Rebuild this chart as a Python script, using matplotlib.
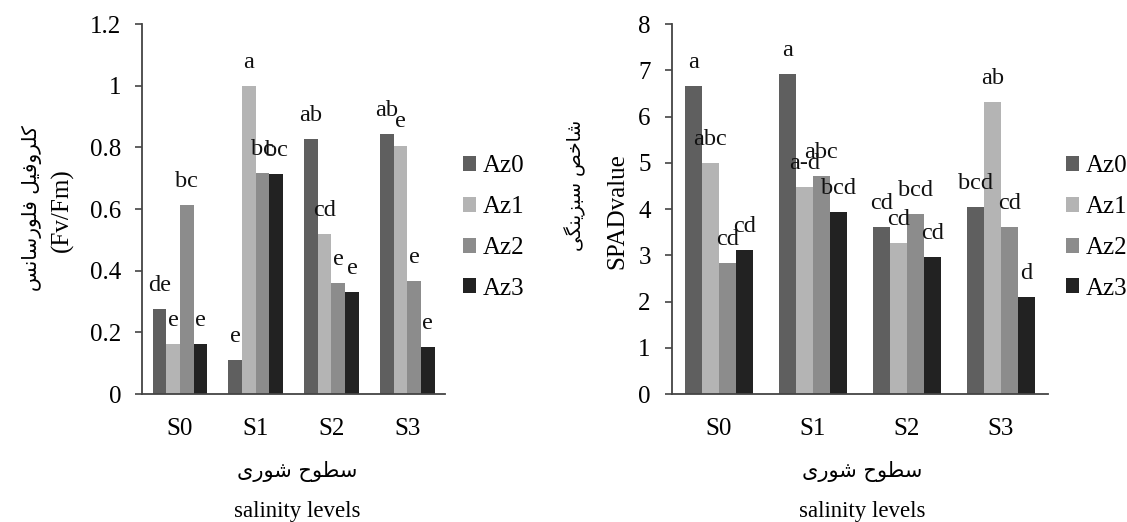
import matplotlib
matplotlib.use('Agg')
import matplotlib.pyplot as plt
import numpy as np

# data
categories = ['S0', 'S1', 'S2', 'S3']
series = ['Az0', 'Az1', 'Az2', 'Az3']

fvfm = [[0.277, 0.110, 0.826, 0.842],   # Az0
        [0.163, 1.000, 0.519, 0.806],   # Az1
        [0.613, 0.718, 0.360, 0.367],   # Az2
        [0.162, 0.715, 0.331, 0.152]]   # Az3
fvfm_letters = [['de', 'e', 'ab', 'ab'],
                ['e', 'a', 'cd', 'e'],
                ['bc', 'bc', 'e', 'e'],
                ['e', 'bc', 'e', 'e']]

spad = [[6.66, 6.91, 3.62, 4.05],
        [5.00, 4.48, 3.27, 6.32],
        [2.84, 4.71, 3.89, 3.62],
        [3.12, 3.94, 2.97, 2.09]]
spad_letters = [['a', 'a', 'cd', 'bcd'],
                ['abc', 'a-d', 'cd', 'ab'],
                ['cd', 'abc', 'bcd', 'cd'],
                ['cd', 'bcd', 'cd', 'd']]

colors = ['#5f5f5f', '#b4b4b4', '#8c8c8c', '#222222']

ylab_fa_left = 'کلروفیل فلورسانس'
ylab_en_left = '(Fv/Fm)'
ylab_fa_right = 'شاخص سبزینگی'
ylab_en_right = 'SPADvalue'
xlab_fa = 'سطوح شوری'
xlab_en = 'salinity levels'

# simple persian shaping (matplotlib has no complex text layout)
FORMS = {
    'ا': ('\uFE8D', '\uFE8E', None, None),
    'ب': ('\uFE8F', '\uFE90', '\uFE91', '\uFE92'),
    'ح': ('\uFEA1', '\uFEA2', '\uFEA3', '\uFEA4'),
    'خ': ('\uFEA5', '\uFEA6', '\uFEA7', '\uFEA8'),
    'ر': ('\uFEAD', '\uFEAE', None, None),
    'ز': ('\uFEAF', '\uFEB0', None, None),
    'س': ('\uFEB1', '\uFEB2', '\uFEB3', '\uFEB4'),
    'ش': ('\uFEB5', '\uFEB6', '\uFEB7', '\uFEB8'),
    'ص': ('\uFEB9', '\uFEBA', '\uFEBB', '\uFEBC'),
    'ط': ('\uFEC1', '\uFEC2', '\uFEC3', '\uFEC4'),
    'ف': ('\uFED1', '\uFED2', '\uFED3', '\uFED4'),
    'ل': ('\uFEDD', '\uFEDE', '\uFEDF', '\uFEE0'),
    'ن': ('\uFEE5', '\uFEE6', '\uFEE7', '\uFEE8'),
    'و': ('\uFEED', '\uFEEE', None, None),
    'ک': ('\uFB8E', '\uFB8F', '\uFB90', '\uFB91'),
    'گ': ('\uFB92', '\uFB93', '\uFB94', '\uFB95'),
    'ی': ('\uFBFC', '\uFBFD', '\uFBFE', '\uFBFF'),
}


def shape(s):
    out = []
    for i, ch in enumerate(s):
        if ch not in FORMS:
            out.append(ch)
            continue
        f = FORMS[ch]
        prev = s[i - 1] if i > 0 else ''
        nxt = s[i + 1] if i + 1 < len(s) else ''
        pj = prev in FORMS and FORMS[prev][2] is not None
        nj = nxt in FORMS and f[2] is not None
        if pj and nj:
            out.append(f[3])
        elif pj:
            out.append(f[1])
        elif nj:
            out.append(f[2])
        else:
            out.append(f[0])
    return ''.join(out)[::-1]


plt.rcParams['font.family'] = ['Liberation Serif', 'DejaVu Sans']
FA = ['DejaVu Sans']

fig = plt.figure(figsize=(11.27, 5.22), dpi=100)
axL = fig.add_axes([0.126, 0.245, 0.269, 0.709])
axR = fig.add_axes([0.596, 0.245, 0.334, 0.709])

x = np.arange(len(categories))
w = 0.18


def draw(ax, vals, letters, ymax, step):
    for k in range(len(series)):
        pos = x + (k - 1.5) * w
        ax.bar(pos, vals[k], w, color=colors[k], label=series[k])
        for j in range(len(categories)):
            ax.annotate(letters[k][j], (pos[j], vals[k][j]), xytext=(0, 13),
                        textcoords='offset points', ha='center', va='baseline',
                        fontsize=17.5, color='#111111')
    ax.set_xlim(-0.5, len(categories) - 0.5)
    ax.set_ylim(0, ymax)
    ticks = np.arange(0, ymax + step / 2, step)
    ax.set_yticks(ticks)
    ax.set_yticklabels([f'{t:g}' for t in np.round(ticks, 2)])
    ax.set_xticks(x)
    ax.set_xticklabels(categories)
    ax.tick_params(axis='y', length=5, width=1.2, pad=10, labelsize=18, color='#444444')
    ax.tick_params(axis='x', length=0, pad=17, labelsize=18)
    for sp in ['top', 'right']:
        ax.spines[sp].set_visible(False)
    for sp in ['left', 'bottom']:
        ax.spines[sp].set_color('#444444')
        ax.spines[sp].set_linewidth(1.3)
    ax.legend(loc='center left', bbox_to_anchor=(1.0, 0.45), frameon=False,
              fontsize=18, handlelength=0.55, handleheight=0.55,
              handletextpad=0.25, labelspacing=0.75, borderaxespad=0.3)


draw(axL, fvfm, fvfm_letters, 1.2, 0.2)
draw(axR, spad, spad_letters, 8, 1)

# axis titles
fig.text(32 / 1127, 1 - 208 / 522, shape(ylab_fa_left), rotation=90, ha='center',
         va='center', fontsize=14.5, family=FA)
fig.text(62 / 1127, 1 - 210 / 522, ylab_en_left, rotation=90, ha='center',
         va='center', fontsize=18)
fig.text(575 / 1127, 1 - 185 / 522, shape(ylab_fa_right), rotation=90, ha='center',
         va='center', fontsize=13.5, family=FA)
fig.text(617 / 1127, 1 - 211 / 522, ylab_en_right, rotation=90, ha='center',
         va='center', fontsize=18)

for cx in (297, 862):
    fig.text(cx / 1127, 1 - 472 / 522, shape(xlab_fa), ha='center', va='center',
             fontsize=15, family=FA)
    fig.text(cx / 1127, 1 - 511 / 522, xlab_en, ha='center', va='center', fontsize=16.5)

fig.savefig('out.png', dpi=100)
